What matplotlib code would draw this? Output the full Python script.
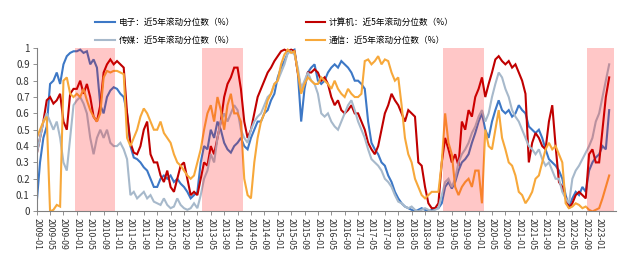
import numpy as np
import matplotlib
matplotlib.use("Agg")
import matplotlib.pyplot as plt

plt.rcParams['font.family'] = ['Noto Sans CJK SC', 'DejaVu Sans']

start_year, start_month = 2009, 1

dianzi = [
    0.05, 0.30, 0.45, 0.52, 0.78, 0.80, 0.85, 0.78, 0.90, 0.95, 0.97, 0.98,
    0.98, 0.99, 0.97, 0.98, 0.90, 0.93, 0.88, 0.65, 0.60, 0.70, 0.74, 0.76,
    0.75, 0.72, 0.70, 0.60, 0.40, 0.33, 0.32, 0.30, 0.27, 0.25, 0.20, 0.15,
    0.15, 0.20, 0.22, 0.20, 0.22, 0.18, 0.20, 0.17, 0.15, 0.12, 0.08, 0.10,
    0.12, 0.30, 0.40, 0.38, 0.50, 0.45, 0.55, 0.50, 0.42, 0.38, 0.36, 0.40,
    0.42, 0.45, 0.40, 0.38, 0.45, 0.50, 0.55, 0.55, 0.60, 0.62, 0.68, 0.72,
    0.82, 0.88, 0.92, 0.97, 0.98, 0.99, 0.85, 0.55, 0.75, 0.85, 0.88, 0.90,
    0.80, 0.78, 0.80, 0.85, 0.88, 0.90, 0.88, 0.92, 0.90, 0.88, 0.85, 0.80,
    0.80, 0.78, 0.75, 0.55, 0.42, 0.38, 0.35, 0.30, 0.28, 0.22, 0.18, 0.12,
    0.08, 0.05, 0.03, 0.02, 0.01, 0.00, 0.01, 0.02, 0.01, 0.00, 0.01, 0.02,
    0.02, 0.05, 0.15, 0.18, 0.14, 0.18, 0.25, 0.30, 0.32, 0.35, 0.42, 0.48,
    0.55, 0.60, 0.50, 0.45, 0.55, 0.62, 0.68, 0.62, 0.60, 0.62, 0.58, 0.60,
    0.65, 0.62, 0.60, 0.52, 0.50, 0.48, 0.50, 0.45, 0.38, 0.32, 0.30, 0.28,
    0.25, 0.20, 0.10, 0.03, 0.08, 0.12, 0.10, 0.15, 0.12, 0.25, 0.30, 0.33,
    0.35, 0.40, 0.38, 0.62,
]

jisuanji = [
    0.35, 0.45, 0.55, 0.68, 0.70, 0.66, 0.68, 0.72, 0.55, 0.50, 0.72, 0.75,
    0.75, 0.80, 0.72, 0.78, 0.70, 0.58, 0.55, 0.65, 0.85, 0.90, 0.93, 0.90,
    0.92, 0.90, 0.88, 0.60, 0.42, 0.36, 0.35, 0.40, 0.50, 0.55, 0.35, 0.30,
    0.30, 0.22, 0.18, 0.25, 0.15, 0.12, 0.20, 0.28, 0.30, 0.20, 0.10, 0.12,
    0.10, 0.20, 0.30, 0.28, 0.40, 0.35, 0.45, 0.55, 0.70, 0.78, 0.82, 0.88,
    0.88, 0.75, 0.55, 0.45, 0.50, 0.60, 0.70, 0.75, 0.80, 0.85, 0.88, 0.92,
    0.95, 0.98, 0.99, 0.98, 0.99, 0.98, 0.85, 0.75, 0.78, 0.85, 0.85, 0.87,
    0.85, 0.80, 0.82, 0.78, 0.70, 0.65, 0.68, 0.62, 0.60, 0.62, 0.65, 0.60,
    0.60, 0.55, 0.50, 0.42, 0.38, 0.35, 0.40, 0.50, 0.60, 0.65, 0.72, 0.68,
    0.65, 0.60, 0.55, 0.62, 0.60, 0.58, 0.30, 0.28, 0.15, 0.05, 0.02, 0.02,
    0.05, 0.30, 0.45, 0.38, 0.30, 0.35, 0.28, 0.55, 0.50, 0.62, 0.58, 0.70,
    0.75, 0.82, 0.70, 0.78, 0.85, 0.93, 0.95, 0.92, 0.90, 0.92, 0.88, 0.90,
    0.85, 0.80, 0.72, 0.30, 0.42, 0.48, 0.45, 0.40, 0.38, 0.55, 0.65, 0.40,
    0.18, 0.15, 0.08, 0.02, 0.05, 0.10, 0.12, 0.10, 0.08, 0.35, 0.38, 0.30,
    0.30, 0.50, 0.70, 0.82,
]

chuanmei = [
    0.35, 0.45, 0.55, 0.60, 0.55, 0.50, 0.55, 0.45, 0.30, 0.25, 0.45, 0.65,
    0.68, 0.70, 0.66, 0.60, 0.45, 0.35, 0.45, 0.50, 0.45, 0.50, 0.42, 0.40,
    0.40, 0.42, 0.38, 0.32, 0.10, 0.12, 0.08, 0.10, 0.12, 0.08, 0.10, 0.06,
    0.05, 0.04, 0.08, 0.04, 0.02, 0.03, 0.08, 0.04, 0.02, 0.01, 0.02, 0.05,
    0.02, 0.10, 0.20, 0.25, 0.35, 0.30, 0.45, 0.55, 0.60, 0.55, 0.60, 0.65,
    0.62, 0.50, 0.45, 0.42, 0.50, 0.55, 0.58, 0.60, 0.65, 0.70, 0.72, 0.78,
    0.80, 0.85, 0.90, 0.97, 0.98, 0.96, 0.88, 0.75, 0.80, 0.85, 0.80, 0.78,
    0.72, 0.60, 0.58, 0.60, 0.55, 0.52, 0.50, 0.55, 0.60, 0.65, 0.68, 0.62,
    0.55, 0.50, 0.45, 0.38, 0.32, 0.30, 0.28, 0.25, 0.20, 0.18, 0.15, 0.10,
    0.06, 0.05, 0.03, 0.02, 0.03, 0.01, 0.00, 0.01, 0.02, 0.01, 0.00, 0.01,
    0.02, 0.10, 0.18, 0.20, 0.15, 0.20, 0.30, 0.35, 0.38, 0.42, 0.48, 0.52,
    0.58, 0.62, 0.55, 0.60, 0.70, 0.78, 0.85, 0.82, 0.75, 0.70, 0.62, 0.58,
    0.55, 0.50, 0.45, 0.40, 0.38, 0.35, 0.38, 0.32, 0.28, 0.30, 0.25, 0.20,
    0.20, 0.12, 0.08, 0.05, 0.20, 0.25, 0.28, 0.32, 0.36, 0.40, 0.45, 0.55,
    0.60, 0.70, 0.80, 0.90,
]

tongxin = [
    0.45, 0.50, 0.55, 0.58, 0.00, 0.01, 0.04, 0.03, 0.80, 0.82, 0.72, 0.70,
    0.72, 0.70, 0.75, 0.68, 0.62, 0.58, 0.55, 0.60, 0.82, 0.86, 0.85, 0.86,
    0.86, 0.85, 0.84, 0.45, 0.40, 0.45, 0.50, 0.58, 0.63, 0.60, 0.55, 0.50,
    0.50, 0.55, 0.48, 0.45, 0.42, 0.35, 0.30, 0.28, 0.25, 0.22, 0.20, 0.22,
    0.30, 0.38, 0.50, 0.60, 0.65, 0.55, 0.70, 0.62, 0.50, 0.65, 0.72, 0.60,
    0.60, 0.55, 0.20, 0.10, 0.08, 0.30, 0.45, 0.55, 0.60, 0.68, 0.72, 0.78,
    0.80, 0.90, 0.96, 0.99, 0.97, 0.98, 0.85, 0.72, 0.78, 0.82, 0.80, 0.78,
    0.78, 0.82, 0.80, 0.78, 0.75, 0.80, 0.75, 0.72, 0.70, 0.75, 0.72, 0.70,
    0.70, 0.72, 0.92, 0.93, 0.90, 0.92, 0.95, 0.90, 0.93, 0.92, 0.85, 0.80,
    0.82, 0.65, 0.45, 0.35, 0.30, 0.20, 0.15, 0.10, 0.08, 0.10, 0.12, 0.12,
    0.12, 0.30, 0.60, 0.42, 0.35, 0.15, 0.10, 0.15, 0.18, 0.20, 0.15, 0.25,
    0.25, 0.05, 0.50, 0.40, 0.38, 0.50, 0.62, 0.45, 0.38, 0.30, 0.28, 0.22,
    0.12, 0.10, 0.05, 0.08, 0.12, 0.20, 0.22, 0.30, 0.38, 0.42, 0.38, 0.40,
    0.35, 0.30, 0.05, 0.02, 0.03, 0.05, 0.04, 0.02, 0.03, 0.01, 0.00, 0.01,
    0.02, 0.08, 0.15, 0.22,
]

series_names = ['电子：近5年滚动分位数（%）', '计算机：近5年滚动分位数（%）',
                '传媒：近5年滚动分位数（%）', '通信：近5年滚动分位数（%）']
shade_periods = [("2009-12", "2010-12"), ("2013-02", "2014-02"),
                 ("2019-02", "2020-02"), ("2022-09", "2023-05")]
yticks = [0, 0.1, 0.2, 0.3, 0.4, 0.5, 0.6, 0.7, 0.8, 0.9, 1]
ytick_labels = ['0', '0.1', '0.2', '0.3', '0.4', '0.5', '0.6', '0.7', '0.8', '0.9', '1']

def month_index(s):
    y, m = s.split('-')
    return (int(y) - start_year) * 12 + (int(m) - start_month)

n = len(dianzi)
x = np.arange(n)
tick_pos = np.arange(0, n, 4)
tick_labels = [f"{start_year + (i // 12)}-{(i % 12) + 1:02d}" for i in tick_pos]

fig = plt.figure(figsize=(6.4, 2.63), dpi=100)
ax = fig.add_axes([0.0573, 0.196, 0.905, 0.6215])

colors = ['#3D78C6', '#C00000', '#A7B9CB', '#F7A83A']
data = [dianzi, jisuanji, chuanmei, tongxin]
lines = []
for d, c, name in zip(data, colors, series_names):
    ln, = ax.plot(x, d, color=c, lw=1.5, label=name, zorder=2,
                  solid_joinstyle='miter')
    lines.append(ln)

for s, e in shade_periods:
    ax.axvspan(month_index(s) + 0.5, month_index(e) + 0.5, color='#FF0000',
               alpha=0.22, lw=0, zorder=3)

ax.set_xlim(0, 173)
ax.set_ylim(0, 1)
ax.set_yticks(yticks)
ax.set_yticklabels(ytick_labels, fontsize=7, color='#333333')
ax.set_xticks(tick_pos)
ax.set_xticklabels(tick_labels, rotation=-90, fontsize=6.3, color='#333333')
ax.tick_params(axis='x', length=3, width=0.6, color='#808080', pad=2)
ax.tick_params(axis='y', length=3, width=0.6, color='#808080', pad=2)
for sp in ['top', 'right']:
    ax.spines[sp].set_visible(False)
for sp in ['left', 'bottom']:
    ax.spines[sp].set_color('#808080')
    ax.spines[sp].set_linewidth(0.8)

order = [0, 2, 1, 3]
fig.legend([lines[i] for i in order], [series_names[i] for i in order],
           ncol=2, loc='center', bbox_to_anchor=(0.429, 0.88), frameon=False,
           fontsize=6.2, handlelength=2.3, handletextpad=0.4,
           columnspacing=8.2, labelspacing=1.1)

fig.savefig('out.png', dpi=100)
